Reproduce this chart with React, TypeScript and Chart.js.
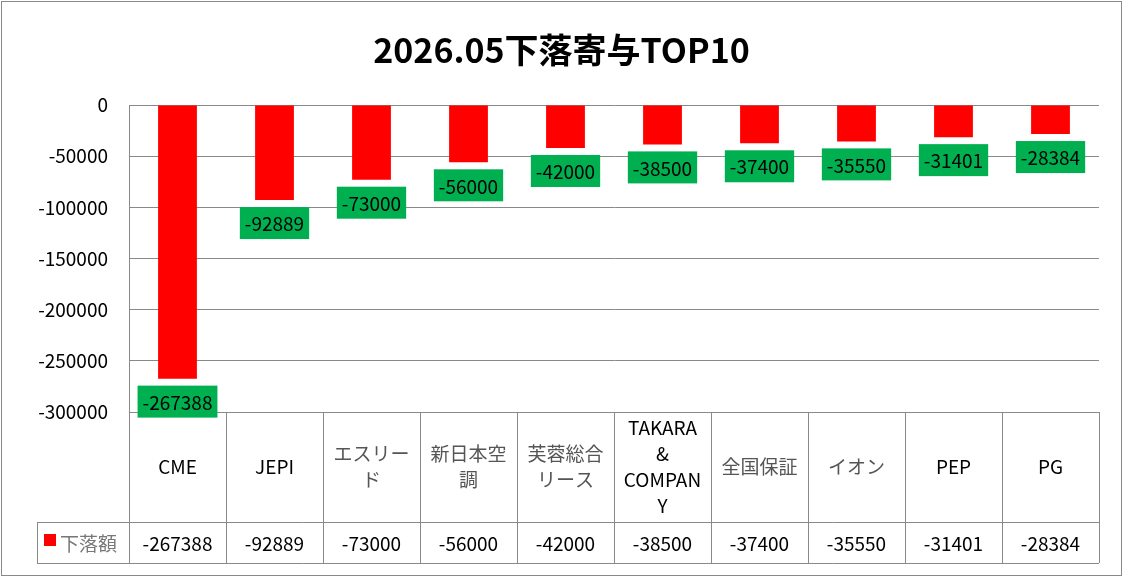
import { useEffect, useRef } from 'react'
import { Chart, registerables } from 'chart.js'

Chart.register(...registerables)

const TITLE = '2026.05下落寄与TOP10'
const SERIES_NAME = '下落額'

// category names, already split into the lines shown in the table
const categories: string[][] = [
  ['CME'],
  ['JEPI'],
  ['エスリー', 'ド'],
  ['新日本空', '調'],
  ['芙蓉総合', 'リース'],
  ['TAKARA', '&', 'COMPAN', 'Y'],
  ['全国保証'],
  ['イオン'],
  ['PEP'],
  ['PG'],
]
const values = [-267388, -92889, -73000, -56000, -42000, -38500, -37400, -35550, -31401, -28384]

const Y_MIN = -300000
const Y_MAX = 0
const Y_STEP = 50000

const FONT = '"Noto Sans CJK JP", "Noto Sans", sans-serif'
const GRID = '#898989'
const BAR = '#ff0000'
const LABEL_BG = '#00b050'

const hasCJK = (s: string) => /[^\x00-\x7f]/.test(s)

// green value boxes under each bar end
const valueLabels = {
  id: 'valueLabels',
  afterDatasetsDraw(chart: Chart) {
    const ctx = chart.ctx
    const meta = chart.getDatasetMeta(0)
    ctx.save()
    ctx.font = `19px ${FONT}`
    ctx.textAlign = 'center'
    ctx.textBaseline = 'middle'
    meta.data.forEach((el: any, i: number) => {
      const text = String(values[i])
      const w = ctx.measureText(text).width + 10
      const h = 32
      const top = el.y + 7
      ctx.fillStyle = LABEL_BG
      ctx.fillRect(el.x - w / 2, top, w, h)
      ctx.fillStyle = '#000'
      ctx.fillText(text, el.x, top + h / 2 + 1)
    })
    ctx.restore()
  },
}

// data table under the plot + outer border
const dataTable = {
  id: 'dataTable',
  afterDraw(chart: Chart) {
    const ctx = chart.ctx
    const { left, right, bottom } = chart.chartArea
    const xs = chart.scales.x
    const n = categories.length
    const colW = (right - left) / n
    const rowTop = bottom
    const rowMid = bottom + 110
    const rowEnd = rowMid + 41
    const legendLeft = 37

    ctx.save()
    ctx.strokeStyle = GRID
    ctx.lineWidth = 1
    ctx.beginPath()
    ctx.moveTo(legendLeft, rowMid + 0.5)
    ctx.lineTo(right, rowMid + 0.5)
    ctx.moveTo(legendLeft, rowEnd + 0.5)
    ctx.lineTo(right, rowEnd + 0.5)
    ctx.moveTo(legendLeft + 0.5, rowMid)
    ctx.lineTo(legendLeft + 0.5, rowEnd)
    for (let i = 0; i <= n; i++) {
      const x = Math.round(left + i * colW) + 0.5
      ctx.moveTo(x, rowTop)
      ctx.lineTo(x, rowEnd)
    }
    ctx.stroke()

    ctx.textAlign = 'center'
    ctx.textBaseline = 'middle'
    ctx.font = `19px ${FONT}`
    const lh = 26
    const cy = (rowTop + rowMid) / 2
    categories.forEach((lines, i) => {
      const x = xs.getPixelForValue(i)
      const y0 = cy - ((lines.length - 1) * lh) / 2
      lines.forEach((line, j) => {
        ctx.fillStyle = hasCJK(line) ? '#555' : '#000'
        ctx.fillText(line, x, y0 + j * lh)
      })
      ctx.fillStyle = '#000'
      ctx.fillText(String(values[i]), x, (rowMid + rowEnd) / 2 + 1)
    })

    // legend key
    ctx.fillStyle = BAR
    ctx.fillRect(44, rowMid + 12, 12, 12)
    ctx.fillStyle = '#777'
    ctx.textAlign = 'left'
    ctx.fillText(SERIES_NAME, 60, (rowMid + rowEnd) / 2 + 1)

    ctx.strokeRect(1.5, 1.5, chart.width - 3, chart.height - 3)
    ctx.restore()
  },
}

export default function App() {
  const canvasRef = useRef<HTMLCanvasElement>(null)
  const chartRef = useRef<Chart | null>(null)

  useEffect(() => {
    document.body.style.margin = '0'
    if (!canvasRef.current) return
    if (chartRef.current) chartRef.current.destroy()

    chartRef.current = new Chart(canvasRef.current, {
      type: 'bar',
      data: {
        labels: categories.map(c => c.join('')),
        datasets: [
          {
            label: SERIES_NAME,
            data: values,
            backgroundColor: BAR,
            borderWidth: 0,
            barPercentage: 0.4,
            categoryPercentage: 1,
          },
        ],
      },
      options: {
        responsive: false,
        animation: false,
        devicePixelRatio: 1,
        // symmetric side padding keeps the title centred on the canvas
        layout: {
          padding: { left: 24, right: 24, top: 0, bottom: 165 },
        },
        plugins: {
          legend: { display: false },
          tooltip: { enabled: false },
          title: {
            display: true,
            text: TITLE,
            color: '#000',
            font: { family: FONT, size: 34, weight: 'bold' },
            padding: { top: 29.6, bottom: 34.6 },
          },
        },
        scales: {
          x: {
            display: false,
          },
          y: {
            min: Y_MIN,
            max: Y_MAX,
            afterFit(scale: any) {
              scale.width = 105
            },
            ticks: {
              stepSize: Y_STEP,
              color: '#000',
              padding: 21,
              font: { family: FONT, size: 19 },
              callback: (v: any) => String(v),
            },
            grid: {
              color: GRID,
              drawTicks: false,
            },
            border: {
              color: GRID,
            },
          },
        },
      },
      plugins: [valueLabels, dataTable],
    })

    return () => {
      if (chartRef.current) {
        chartRef.current.destroy()
        chartRef.current = null
      }
    }
  }, [])

  return (
    <div style={{ width: 1123, height: 577 }}>
      <canvas ref={canvasRef} width={1123} height={577} style={{ display: 'block' }} />
    </div>
  )
}
